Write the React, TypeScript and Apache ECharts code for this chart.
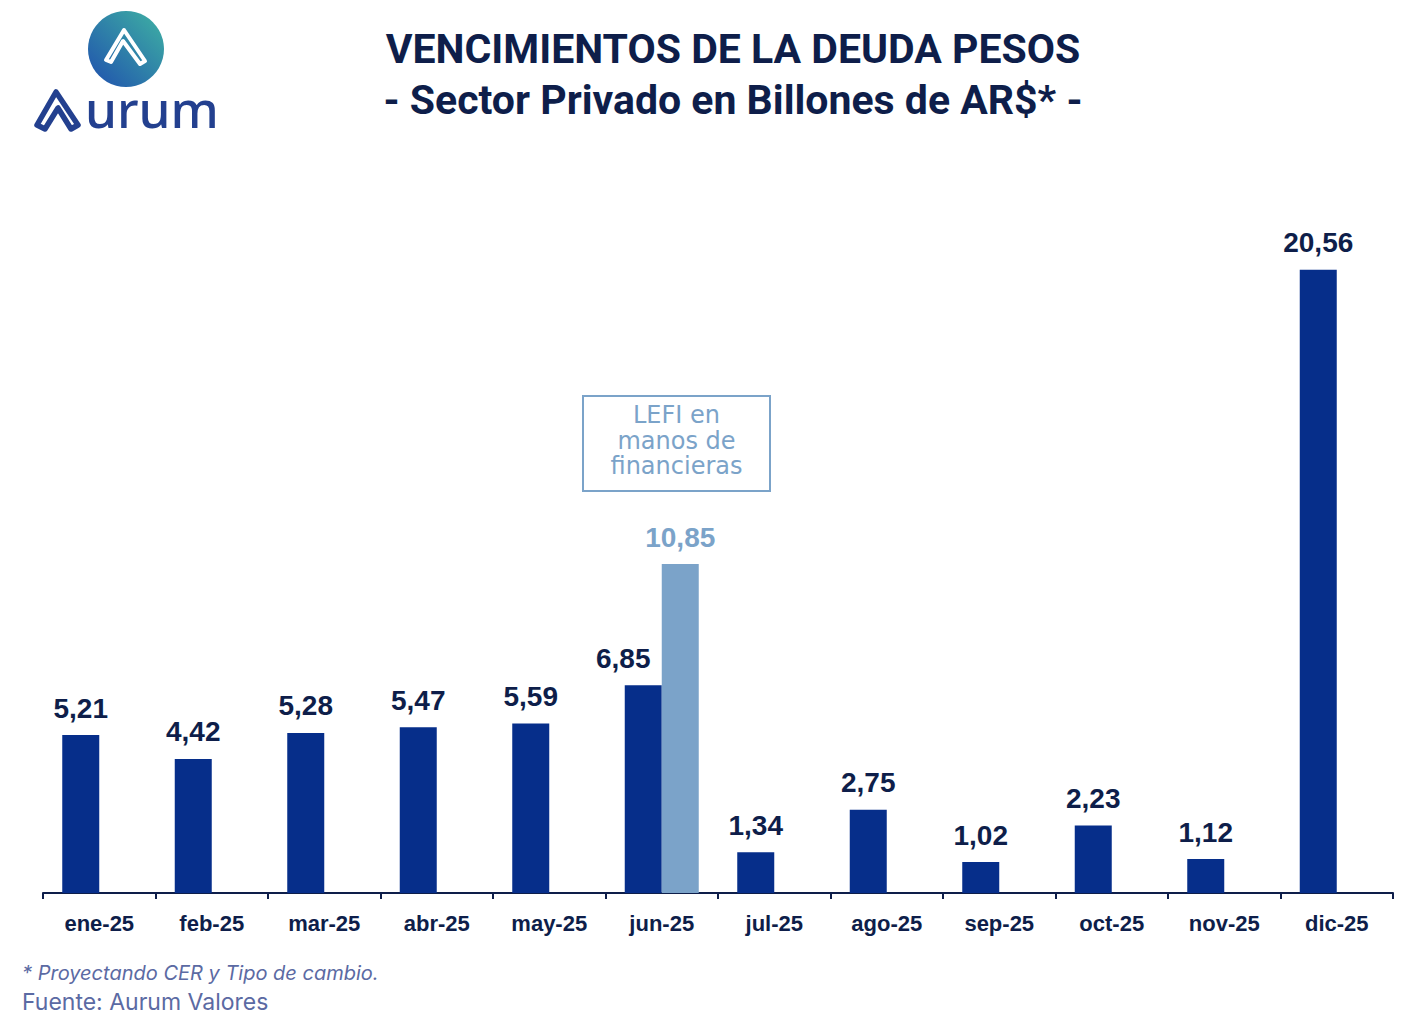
import React, { useEffect, useRef } from "react";
import * as echarts from "echarts";

const categories = ["ene-25", "feb-25", "mar-25", "abr-25", "may-25", "jun-25", "jul-25", "ago-25", "sep-25", "oct-25", "nov-25", "dic-25"];
const mainValues = [5.21, 4.42, 5.28, 5.47, 5.59, 6.85, 1.34, 2.75, 1.02, 2.23, 1.12, 20.56];
const lefiValues = [null, null, null, null, null, 10.85, null, null, null, null, null, null];

const titleLine1 = "VENCIMIENTOS DE LA DEUDA PESOS";
const titleLine2 = "- Sector Privado en Billones de AR$* -";
const annotationLines = ["LEFI en", "manos de", "financieras"];
const footnote = "* Proyectando CER y Tipo de cambio.";
const sourceText = "Fuente: Aurum Valores";

const NAVY = "#0e1e4a";
const DARK_BLUE = "#062e8a";
const LIGHT_BLUE = "#7ba3c9";
const LOGO_BLUE = "#23408f";

const fmt = (v: number) => v.toFixed(2).replace(".", ",");

const labelBase = {
  show: true,
  position: "top",
  distance: 13,
  fontFamily: "Liberation Sans, Arial, sans-serif",
  fontWeight: "bold",
  fontSize: 28,
};

export default function App() {
  const ref = useRef<HTMLDivElement>(null);
  useEffect(() => {
    if (!ref.current) return;
    const chart = echarts.init(ref.current, null, { renderer: "svg" });
    const mainData = mainValues.map((v, i) =>
      categories[i] === "jun-25" ? { value: v, label: { offset: [-20, 0] } } : v
    );
    chart.setOption({
      animation: false,
      backgroundColor: "#ffffff",
      grid: { left: 43, right: 27, top: 226, bottom: 138, containLabel: false },
      xAxis: {
        type: "category",
        data: categories,
        axisLine: { show: true, lineStyle: { color: NAVY, width: 2 } },
        axisTick: { show: true, length: 6, lineStyle: { color: NAVY, width: 2 } },
        axisLabel: {
          margin: 19,
          color: NAVY,
          fontFamily: "Liberation Sans, Arial, sans-serif",
          fontWeight: "bold",
          fontSize: 22,
        },
      },
      yAxis: {
        type: "value",
        min: 0,
        max: 22,
        show: false,
        splitLine: { show: false },
      },
      series: [
        {
          type: "bar",
          data: mainData,
          barWidth: 37,
          barGap: "0%",
          itemStyle: { color: DARK_BLUE },
          label: {
            ...labelBase,
            color: NAVY,
            formatter: (p: any) => fmt(p.value),
          },
        },
        {
          type: "bar",
          data: lefiValues,
          barWidth: 37,
          barGap: "0%",
          itemStyle: { color: LIGHT_BLUE },
          label: {
            ...labelBase,
            color: LIGHT_BLUE,
            formatter: (p: any) => (p.value == null ? "" : fmt(p.value)),
          },
        },
      ],
      graphic: [
        // Logo circle
        {
          type: "circle",
          shape: { cx: 126, cy: 49, r: 38 },
          style: {
            fill: new echarts.graphic.LinearGradient(0, 1, 1, 0, [
              { offset: 0, color: "#1f4fae" },
              { offset: 1, color: "#3fb3a3" },
            ]),
          },
        },
        {
          type: "polygon",
          shape: { points: [[106, 60], [124, 30], [145, 61], [140, 64], [123, 41], [111, 62]] },
          style: { fill: "none", stroke: "#ffffff", lineWidth: 4, lineJoin: "round", lineCap: "round" },
        },
        // Aurum "A"
        {
          type: "polygon",
          shape: { points: [[37, 125], [56, 92], [78, 125], [71, 129], [58, 108], [45, 129]] },
          style: { fill: "none", stroke: LOGO_BLUE, lineWidth: 5.5, lineJoin: "round", lineCap: "round" },
        },
        {
          type: "text",
          x: 85,
          y: 133,
          style: {
            text: "urum",
            fill: LOGO_BLUE,
            font: "500 51px 'Noto Sans', sans-serif",
            textAlign: "left",
            textVerticalAlign: "bottom",
          },
        },
        // Title
        {
          type: "text",
          x: 733,
          y: 49,
          style: {
            text: titleLine1,
            fill: NAVY,
            font: "bold 41px Roboto, sans-serif",
            textAlign: "center",
            textVerticalAlign: "middle",
          },
        },
        {
          type: "text",
          x: 733,
          y: 100,
          style: {
            text: titleLine2,
            fill: NAVY,
            font: "bold 41px Roboto, sans-serif",
            textAlign: "center",
            textVerticalAlign: "middle",
          },
        },
        // Annotation box
        {
          type: "rect",
          shape: { x: 583, y: 396, width: 187, height: 95 },
          style: { fill: "#ffffff", stroke: LIGHT_BLUE, lineWidth: 2 },
        },
        ...annotationLines.map((line, i) => ({
          type: "text",
          x: 676.5,
          y: 415 + i * 25.5,
          style: {
            text: line,
            fill: LIGHT_BLUE,
            font: "24px 'DejaVu Sans', sans-serif",
            textAlign: "center",
            textVerticalAlign: "middle",
          },
        })),
        // Footnotes
        {
          type: "text",
          x: 22,
          y: 973,
          style: {
            text: footnote,
            fill: "#5b6aa3",
            font: "italic 20px Inter, sans-serif",
            textAlign: "left",
            textVerticalAlign: "middle",
          },
        },
        {
          type: "text",
          x: 22,
          y: 1002,
          style: {
            text: sourceText,
            fill: "#5b6aa3",
            font: "23px Inter, sans-serif",
            textAlign: "left",
            textVerticalAlign: "middle",
          },
        },
      ],
    });
    return () => chart.dispose();
  }, []);
  return (
    <div
      ref={ref}
      style={{ position: "fixed", left: 0, top: 0, width: 1420, height: 1031, background: "#fff" }}
    />
  );
}
